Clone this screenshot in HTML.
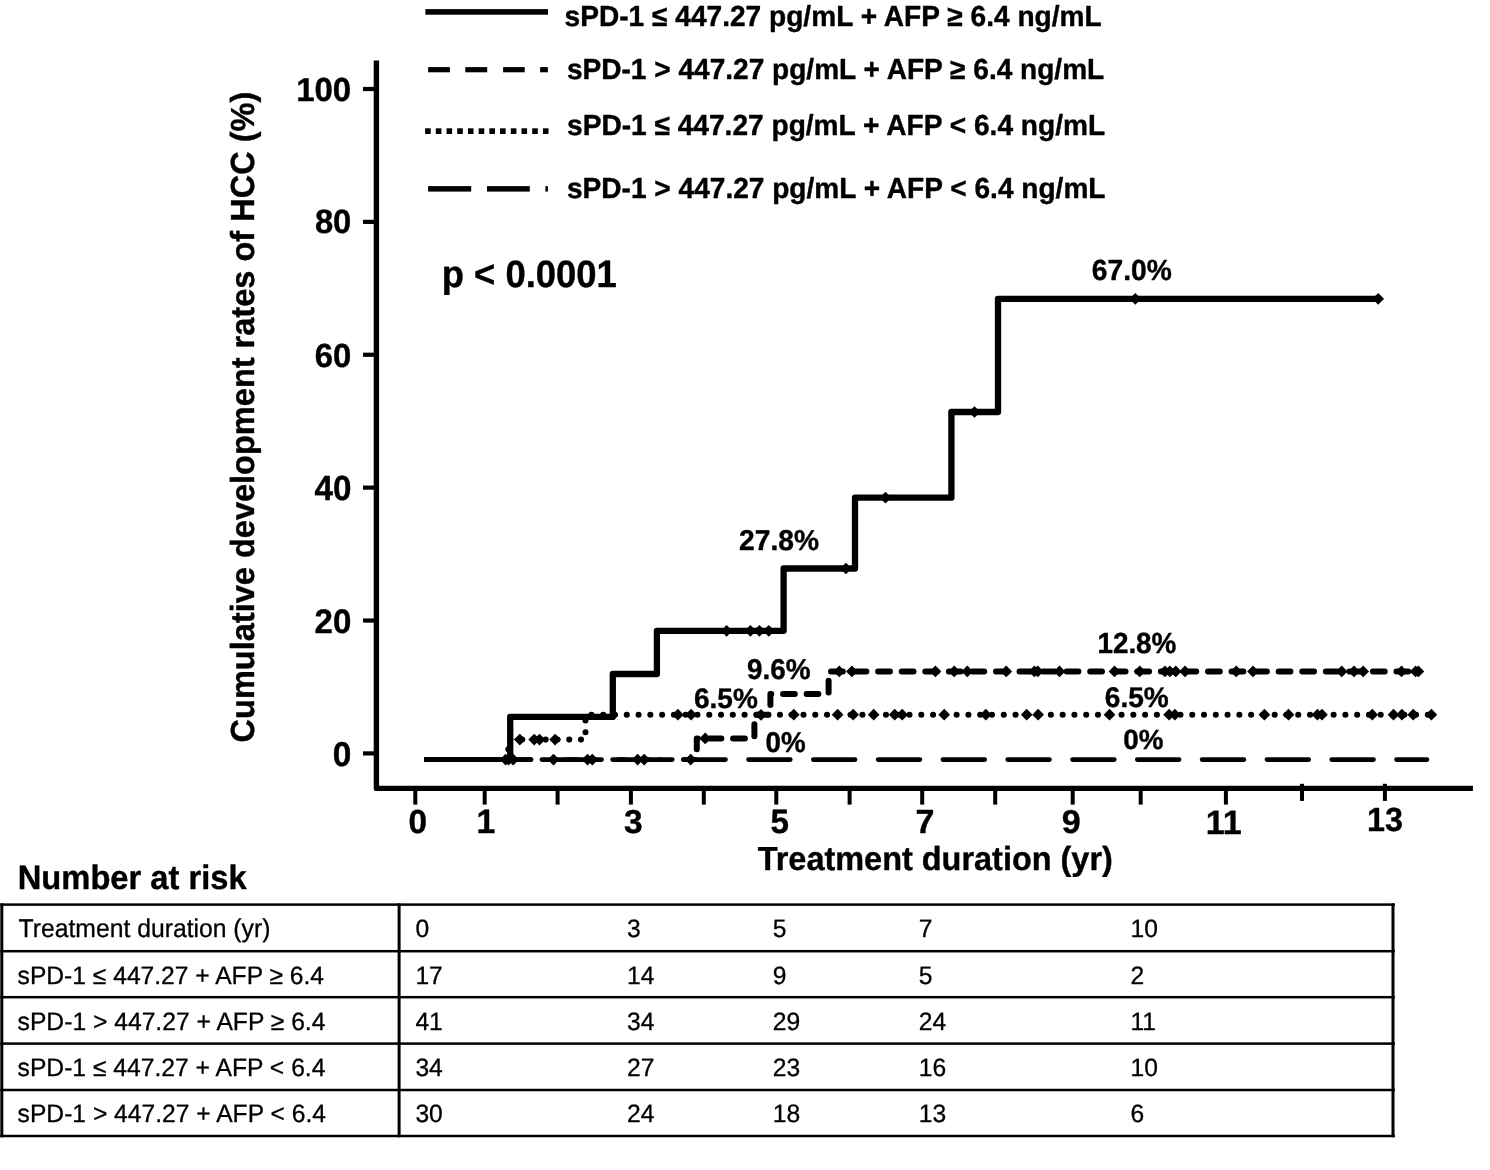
<!DOCTYPE html>
<html><head><meta charset="utf-8"><title>Cumulative development rates of HCC</title>
<style>
html,body{margin:0;padding:0;background:#fff;width:1490px;height:1170px;overflow:hidden}
svg{display:block;will-change:transform}
text{font-family:"Liberation Sans", sans-serif;fill:#000;text-rendering:geometricPrecision;stroke:#000;stroke-width:0.4px;stroke-linejoin:round}
text.r{stroke-width:0.3px}
</style></head><body>
<svg width="1490" height="1170" viewBox="0 0 1490 1170">
<rect width="1490" height="1170" fill="#fff"/>
<path d="M376.4,60.6 L376.4,788.4 L1472.9,788.4" fill="none" stroke="#000" stroke-width="5.4" stroke-linejoin="round"/>
<rect x="363" y="86.90" width="12" height="4.2"/>
<rect x="363" y="219.78" width="12" height="4.2"/>
<rect x="363" y="352.66" width="12" height="4.2"/>
<rect x="363" y="485.54" width="12" height="4.2"/>
<rect x="363" y="618.42" width="12" height="4.2"/>
<rect x="363" y="751.30" width="12" height="4.2"/>
<rect x="413.30" y="790" width="4" height="14.6"/>
<rect x="482.70" y="790" width="4" height="14.6"/>
<rect x="555.60" y="790" width="4" height="14.6"/>
<rect x="628.90" y="790" width="4" height="14.6"/>
<rect x="701.80" y="790" width="4" height="14.6"/>
<rect x="774.30" y="790" width="4" height="14.6"/>
<rect x="847.60" y="790" width="4" height="14.6"/>
<rect x="920.20" y="790" width="4" height="14.6"/>
<rect x="993.20" y="790" width="4" height="14.6"/>
<rect x="1070.70" y="790" width="4" height="14.6"/>
<rect x="1138.70" y="790" width="4" height="14.6"/>
<rect x="1223.90" y="790" width="4" height="14.6"/>
<rect x="1300.00" y="783.8" width="4" height="17.1"/>
<rect x="1382.90" y="783.8" width="4" height="17.1"/>
<rect x="425.4" y="9.1" width="122.6" height="5.6"/>
<rect x="428.1" y="67.1" width="21.80" height="5.2"/>
<rect x="465.3" y="67.1" width="21.90" height="5.2"/>
<rect x="503.1" y="67.1" width="21.60" height="5.2"/>
<rect x="540.1" y="67.1" width="7.80" height="5.2"/>
<rect x="425.10" y="128.3" width="5.6" height="5.7"/>
<rect x="435.81" y="128.3" width="5.6" height="5.7"/>
<rect x="446.52" y="128.3" width="5.6" height="5.7"/>
<rect x="457.23" y="128.3" width="5.6" height="5.7"/>
<rect x="467.94" y="128.3" width="5.6" height="5.7"/>
<rect x="478.65" y="128.3" width="5.6" height="5.7"/>
<rect x="489.36" y="128.3" width="5.6" height="5.7"/>
<rect x="500.07" y="128.3" width="5.6" height="5.7"/>
<rect x="510.78" y="128.3" width="5.6" height="5.7"/>
<rect x="521.49" y="128.3" width="5.6" height="5.7"/>
<rect x="532.20" y="128.3" width="5.6" height="5.7"/>
<rect x="542.91" y="128.3" width="5.6" height="5.7"/>
<rect x="428.1" y="186.1" width="43.10" height="5.5"/>
<rect x="487.0" y="186.1" width="42.80" height="5.5"/>
<rect x="545.4" y="186.1" width="2.50" height="5.5"/>
<path d="M500.00,759.60 L1426.95,759.60" fill="none" stroke="#000" stroke-width="4.8" stroke-linecap="round" stroke-dasharray="41.7 23.10" stroke-dashoffset="10.65"/>
<path d="M500.00,759.60 L508.30,759.60 L508.30,739.60 L585.50,739.60 L585.50,714.70 L1431.00,714.70" fill="none" stroke="#000" stroke-width="6.1" stroke-linecap="round" stroke-linejoin="round" stroke-dasharray="0 11.78" stroke-dashoffset="5.00"/>
<path d="M500.00,759.60 L696.80,759.60" fill="none" stroke="#000" stroke-width="4.9" stroke-linecap="round" stroke-dasharray="12.40 11.16" stroke-dashoffset="5.15"/>
<path d="M696.80,759.60 L696.80,738.40 L754.40,738.40 L754.40,714.80 L770.40,714.80 L770.40,694.10 L828.60,694.10 L828.60,671.40 L1418.00,671.40" fill="none" stroke="#000" stroke-width="6.0" stroke-linecap="round" stroke-linejoin="round" stroke-dasharray="11.8 11.76" stroke-dashoffset="13.17"/>
<rect x="424" y="757.0" width="88" height="5.0"/>
<path d="M510.20,761.90 L510.20,716.90 L612.80,716.90 L612.80,674.00 L656.90,674.00 L656.90,630.80 L783.60,630.80 L783.60,568.50 L855.00,568.50 L855.00,497.70 L951.40,497.70 L951.40,412.00 L998.00,412.00 L998.00,298.80 L1380.50,298.80" fill="none" stroke="#000" stroke-width="6.3" stroke-linejoin="round"/>
<g fill="#000"><path d="M726.60,624.95 L732.45,630.80 L726.60,636.65 L720.75,630.80 Z"/><path d="M750.40,624.95 L756.25,630.80 L750.40,636.65 L744.55,630.80 Z"/><path d="M759.40,624.95 L765.25,630.80 L759.40,636.65 L753.55,630.80 Z"/><path d="M768.80,624.95 L774.65,630.80 L768.80,636.65 L762.95,630.80 Z"/><path d="M845.90,562.65 L851.75,568.50 L845.90,574.35 L840.05,568.50 Z"/><path d="M885.50,491.85 L891.35,497.70 L885.50,503.55 L879.65,497.70 Z"/><path d="M974.50,406.15 L980.35,412.00 L974.50,417.85 L968.65,412.00 Z"/><path d="M1135.30,292.95 L1141.15,298.80 L1135.30,304.65 L1129.45,298.80 Z"/><path d="M1378.20,292.95 L1384.05,298.80 L1378.20,304.65 L1372.35,298.80 Z"/><path d="M705.20,732.55 L711.05,738.40 L705.20,744.25 L699.35,738.40 Z"/><path d="M761.00,708.95 L766.85,714.80 L761.00,720.65 L755.15,714.80 Z"/><path d="M839.30,665.55 L845.15,671.40 L839.30,677.25 L833.45,671.40 Z"/><path d="M851.90,665.55 L857.75,671.40 L851.90,677.25 L846.05,671.40 Z"/><path d="M935.40,665.55 L941.25,671.40 L935.40,677.25 L929.55,671.40 Z"/><path d="M954.20,665.55 L960.05,671.40 L954.20,677.25 L948.35,671.40 Z"/><path d="M967.30,665.55 L973.15,671.40 L967.30,677.25 L961.45,671.40 Z"/><path d="M1006.20,665.55 L1012.05,671.40 L1006.20,677.25 L1000.35,671.40 Z"/><path d="M1034.40,665.55 L1040.25,671.40 L1034.40,677.25 L1028.55,671.40 Z"/><path d="M1037.80,665.55 L1043.65,671.40 L1037.80,677.25 L1031.95,671.40 Z"/><path d="M1059.50,665.55 L1065.35,671.40 L1059.50,677.25 L1053.65,671.40 Z"/><path d="M1114.50,665.55 L1120.35,671.40 L1114.50,677.25 L1108.65,671.40 Z"/><path d="M1139.70,665.55 L1145.55,671.40 L1139.70,677.25 L1133.85,671.40 Z"/><path d="M1164.90,665.55 L1170.75,671.40 L1164.90,677.25 L1159.05,671.40 Z"/><path d="M1169.90,665.55 L1175.75,671.40 L1169.90,677.25 L1164.05,671.40 Z"/><path d="M1175.80,665.55 L1181.65,671.40 L1175.80,677.25 L1169.95,671.40 Z"/><path d="M1185.00,665.55 L1190.85,671.40 L1185.00,677.25 L1179.15,671.40 Z"/><path d="M1236.20,665.55 L1242.05,671.40 L1236.20,677.25 L1230.35,671.40 Z"/><path d="M1253.00,665.55 L1258.85,671.40 L1253.00,677.25 L1247.15,671.40 Z"/><path d="M1341.70,665.55 L1347.55,671.40 L1341.70,677.25 L1335.85,671.40 Z"/><path d="M1354.00,665.55 L1359.85,671.40 L1354.00,677.25 L1348.15,671.40 Z"/><path d="M1363.20,665.55 L1369.05,671.40 L1363.20,677.25 L1357.35,671.40 Z"/><path d="M1401.50,665.55 L1407.35,671.40 L1401.50,677.25 L1395.65,671.40 Z"/><path d="M1415.60,665.55 L1421.45,671.40 L1415.60,677.25 L1409.75,671.40 Z"/><path d="M1418.40,665.55 L1424.25,671.40 L1418.40,677.25 L1412.55,671.40 Z"/><path d="M519.80,733.75 L525.65,739.60 L519.80,745.45 L513.95,739.60 Z"/><path d="M534.20,733.75 L540.05,739.60 L534.20,745.45 L528.35,739.60 Z"/><path d="M539.50,733.75 L545.35,739.60 L539.50,745.45 L533.65,739.60 Z"/><path d="M555.10,733.75 L560.95,739.60 L555.10,745.45 L549.25,739.60 Z"/><path d="M677.90,708.85 L683.75,714.70 L677.90,720.55 L672.05,714.70 Z"/><path d="M691.10,708.85 L696.95,714.70 L691.10,720.55 L685.25,714.70 Z"/><path d="M793.80,708.85 L799.65,714.70 L793.80,720.55 L787.95,714.70 Z"/><path d="M837.60,708.85 L843.45,714.70 L837.60,720.55 L831.75,714.70 Z"/><path d="M853.20,708.85 L859.05,714.70 L853.20,720.55 L847.35,714.70 Z"/><path d="M873.70,708.85 L879.55,714.70 L873.70,720.55 L867.85,714.70 Z"/><path d="M894.70,708.85 L900.55,714.70 L894.70,720.55 L888.85,714.70 Z"/><path d="M902.20,708.85 L908.05,714.70 L902.20,720.55 L896.35,714.70 Z"/><path d="M944.20,708.85 L950.05,714.70 L944.20,720.55 L938.35,714.70 Z"/><path d="M985.80,708.85 L991.65,714.70 L985.80,720.55 L979.95,714.70 Z"/><path d="M1026.70,708.85 L1032.55,714.70 L1026.70,720.55 L1020.85,714.70 Z"/><path d="M1038.10,708.85 L1043.95,714.70 L1038.10,720.55 L1032.25,714.70 Z"/><path d="M1109.50,708.85 L1115.35,714.70 L1109.50,720.55 L1103.65,714.70 Z"/><path d="M1169.10,708.85 L1174.95,714.70 L1169.10,720.55 L1163.25,714.70 Z"/><path d="M1174.90,708.85 L1180.75,714.70 L1174.90,720.55 L1169.05,714.70 Z"/><path d="M1264.40,708.85 L1270.25,714.70 L1264.40,720.55 L1258.55,714.70 Z"/><path d="M1288.50,708.85 L1294.35,714.70 L1288.50,720.55 L1282.65,714.70 Z"/><path d="M1317.40,708.85 L1323.25,714.70 L1317.40,720.55 L1311.55,714.70 Z"/><path d="M1322.00,708.85 L1327.85,714.70 L1322.00,720.55 L1316.15,714.70 Z"/><path d="M1372.30,708.85 L1378.15,714.70 L1372.30,720.55 L1366.45,714.70 Z"/><path d="M1393.50,708.85 L1399.35,714.70 L1393.50,720.55 L1387.65,714.70 Z"/><path d="M1401.90,708.85 L1407.75,714.70 L1401.90,720.55 L1396.05,714.70 Z"/><path d="M1413.20,708.85 L1419.05,714.70 L1413.20,720.55 L1407.35,714.70 Z"/><path d="M1431.40,708.85 L1437.25,714.70 L1431.40,720.55 L1425.55,714.70 Z"/><path d="M505.60,753.75 L511.45,759.60 L505.60,765.45 L499.75,759.60 Z"/><path d="M508.60,753.75 L514.45,759.60 L508.60,765.45 L502.75,759.60 Z"/><path d="M513.20,753.75 L519.05,759.60 L513.20,765.45 L507.35,759.60 Z"/><path d="M553.50,753.75 L559.35,759.60 L553.50,765.45 L547.65,759.60 Z"/><path d="M587.50,753.75 L593.35,759.60 L587.50,765.45 L581.65,759.60 Z"/><path d="M592.30,753.75 L598.15,759.60 L592.30,765.45 L586.45,759.60 Z"/><path d="M637.60,753.75 L643.45,759.60 L637.60,765.45 L631.75,759.60 Z"/><path d="M644.20,753.75 L650.05,759.60 L644.20,765.45 L638.35,759.60 Z"/><path d="M690.70,753.75 L696.55,759.60 L690.70,765.45 L684.85,759.60 Z"/></g>
<g fill="#000">
<rect x="0.3" y="903.35" width="1394.6" height="2.5"/>
<rect x="0.3" y="949.95" width="1394.6" height="2.5"/>
<rect x="0.3" y="995.95" width="1394.6" height="2.5"/>
<rect x="0.3" y="1042.35" width="1394.6" height="2.5"/>
<rect x="0.3" y="1088.75" width="1394.6" height="2.5"/>
<rect x="0.3" y="1134.75" width="1394.6" height="2.5"/>
<rect x="0.30" y="903.35" width="3.0" height="233.9"/>
<rect x="397.60" y="903.35" width="3.0" height="233.9"/>
<rect x="1391.50" y="903.35" width="3.0" height="233.9"/>
</g>
<text transform="translate(564.57,26.00) scale(0.9691,1)" font-size="29.00" font-weight="bold">sPD-1 ≤ 447.27 pg/mL + AFP ≥ 6.4 ng/mL</text>
<text transform="translate(566.94,78.64) scale(0.9676,1)" font-size="29.00" font-weight="bold">sPD-1 &gt; 447.27 pg/mL + AFP ≥ 6.4 ng/mL</text>
<text transform="translate(567.00,135.30) scale(0.9691,1)" font-size="29.00" font-weight="bold">sPD-1 ≤ 447.27 pg/mL + AFP &lt; 6.4 ng/mL</text>
<text transform="translate(566.98,198.16) scale(0.9680,1)" font-size="29.00" font-weight="bold">sPD-1 &gt; 447.27 pg/mL + AFP &lt; 6.4 ng/mL</text>
<text transform="translate(296.19,100.80) scale(0.9912,1)" font-size="33.21" font-weight="bold">100</text>
<text transform="translate(314.88,233.44) scale(0.9678,1)" font-size="33.83" font-weight="bold">80</text>
<text transform="translate(314.78,366.50) scale(0.9831,1)" font-size="33.34" font-weight="bold">60</text>
<text transform="translate(314.45,499.98) scale(0.9530,1)" font-size="34.85" font-weight="bold">40</text>
<text transform="translate(314.59,632.66) scale(0.9722,1)" font-size="33.95" font-weight="bold">20</text>
<text transform="translate(332.84,765.52) scale(0.9715,1)" font-size="34.33" font-weight="bold">0</text>
<text transform="translate(408.59,832.88) scale(0.9949,1)" font-size="33.43" font-weight="bold">0</text>
<text transform="translate(476.38,832.73)" font-size="33.76" font-weight="bold">1</text>
<text transform="translate(624.12,832.86) scale(1.0103,1)" font-size="33.17" font-weight="bold">3</text>
<text transform="translate(770.40,833.38) scale(0.9811,1)" font-size="33.82" font-weight="bold">5</text>
<text transform="translate(915.53,832.66) scale(1.0158,1)" font-size="33.49" font-weight="bold">7</text>
<text transform="translate(1061.87,833.49) scale(1.0280,1)" font-size="33.09" font-weight="bold">9</text>
<text transform="translate(1205.64,834.04)" font-size="33.97" font-weight="bold">11</text>
<text transform="translate(1366.97,831.02) scale(0.9647,1)" font-size="33.52" font-weight="bold">13</text>
<text transform="translate(757.70,870.05) scale(0.9735,1)" font-size="33.34" font-weight="bold">Treatment duration (yr)</text>
<text transform="translate(17.75,888.71) scale(0.9682,1)" font-size="33.78" font-weight="bold">Number at risk</text>
<text transform="translate(441.76,286.82) scale(0.9551,1)" font-size="38.13" font-weight="bold">p &lt; 0.0001</text>
<text transform="translate(1091.81,280.35) scale(0.9638,1)" font-size="29.25" font-weight="bold">67.0%</text>
<text transform="translate(739.11,550.35) scale(0.9810,1)" font-size="28.71" font-weight="bold">27.8%</text>
<text transform="translate(747.06,679.44) scale(0.9744,1)" font-size="28.62" font-weight="bold">9.6%</text>
<text transform="translate(694.02,707.59) scale(0.9928,1)" font-size="28.20" font-weight="bold">6.5%</text>
<text transform="translate(765.52,751.57) scale(0.9680,1)" font-size="28.71" font-weight="bold">0%</text>
<text transform="translate(1097.41,653.01) scale(0.9598,1)" font-size="29.03" font-weight="bold">12.8%</text>
<text transform="translate(1104.79,706.80) scale(0.9841,1)" font-size="28.53" font-weight="bold">6.5%</text>
<text transform="translate(1123.16,749.25) scale(1.0006,1)" font-size="27.80" font-weight="bold">0%</text>
<text transform="translate(254.00,742.46) rotate(-90) scale(0.9761,1)" font-size="33.35" font-weight="bold">Cumulative development rates of HCC (%)</text>
<text class="r" transform="translate(18.54,937.44) scale(0.9589,1)" font-size="25.79" font-weight="normal">Treatment duration (yr)</text>
<text class="r" transform="translate(17.60,983.73) scale(0.9793,1)" font-size="25.15" font-weight="normal">sPD-1 ≤ 447.27 + AFP ≥ 6.4</text>
<text class="r" transform="translate(17.58,1029.54) scale(0.9810,1)" font-size="25.15" font-weight="normal">sPD-1 &gt; 447.27 + AFP ≥ 6.4</text>
<text class="r" transform="translate(17.56,1075.53) scale(0.9810,1)" font-size="25.15" font-weight="normal">sPD-1 ≤ 447.27 + AFP &lt; 6.4</text>
<text class="r" transform="translate(17.61,1122.00) scale(0.9797,1)" font-size="25.15" font-weight="normal">sPD-1 &gt; 447.27 + AFP &lt; 6.4</text>
<text class="r" transform="translate(415.40,937.30) scale(0.9800,1)" font-size="25.15">0</text>
<text class="r" transform="translate(627.10,937.30) scale(0.9800,1)" font-size="25.15">3</text>
<text class="r" transform="translate(772.80,937.30) scale(0.9800,1)" font-size="25.15">5</text>
<text class="r" transform="translate(918.80,937.30) scale(0.9800,1)" font-size="25.15">7</text>
<text class="r" transform="translate(1130.50,937.30) scale(0.9800,1)" font-size="25.15">10</text>
<text class="r" transform="translate(415.40,983.70) scale(0.9800,1)" font-size="25.15">17</text>
<text class="r" transform="translate(627.10,983.70) scale(0.9800,1)" font-size="25.15">14</text>
<text class="r" transform="translate(772.80,983.70) scale(0.9800,1)" font-size="25.15">9</text>
<text class="r" transform="translate(918.80,983.70) scale(0.9800,1)" font-size="25.15">5</text>
<text class="r" transform="translate(1130.50,983.70) scale(0.9800,1)" font-size="25.15">2</text>
<text class="r" transform="translate(415.40,1029.70) scale(0.9800,1)" font-size="25.15">41</text>
<text class="r" transform="translate(627.10,1029.70) scale(0.9800,1)" font-size="25.15">34</text>
<text class="r" transform="translate(772.80,1029.70) scale(0.9800,1)" font-size="25.15">29</text>
<text class="r" transform="translate(918.80,1029.70) scale(0.9800,1)" font-size="25.15">24</text>
<text class="r" transform="translate(1130.50,1029.70) scale(0.9800,1)" font-size="25.15">11</text>
<text class="r" transform="translate(415.40,1075.90) scale(0.9800,1)" font-size="25.15">34</text>
<text class="r" transform="translate(627.10,1075.90) scale(0.9800,1)" font-size="25.15">27</text>
<text class="r" transform="translate(772.80,1075.90) scale(0.9800,1)" font-size="25.15">23</text>
<text class="r" transform="translate(918.80,1075.90) scale(0.9800,1)" font-size="25.15">16</text>
<text class="r" transform="translate(1130.50,1075.90) scale(0.9800,1)" font-size="25.15">10</text>
<text class="r" transform="translate(415.40,1122.30) scale(0.9800,1)" font-size="25.15">30</text>
<text class="r" transform="translate(627.10,1122.30) scale(0.9800,1)" font-size="25.15">24</text>
<text class="r" transform="translate(772.80,1122.30) scale(0.9800,1)" font-size="25.15">18</text>
<text class="r" transform="translate(918.80,1122.30) scale(0.9800,1)" font-size="25.15">13</text>
<text class="r" transform="translate(1130.50,1122.30) scale(0.9800,1)" font-size="25.15">6</text>
</svg>
</body></html>
